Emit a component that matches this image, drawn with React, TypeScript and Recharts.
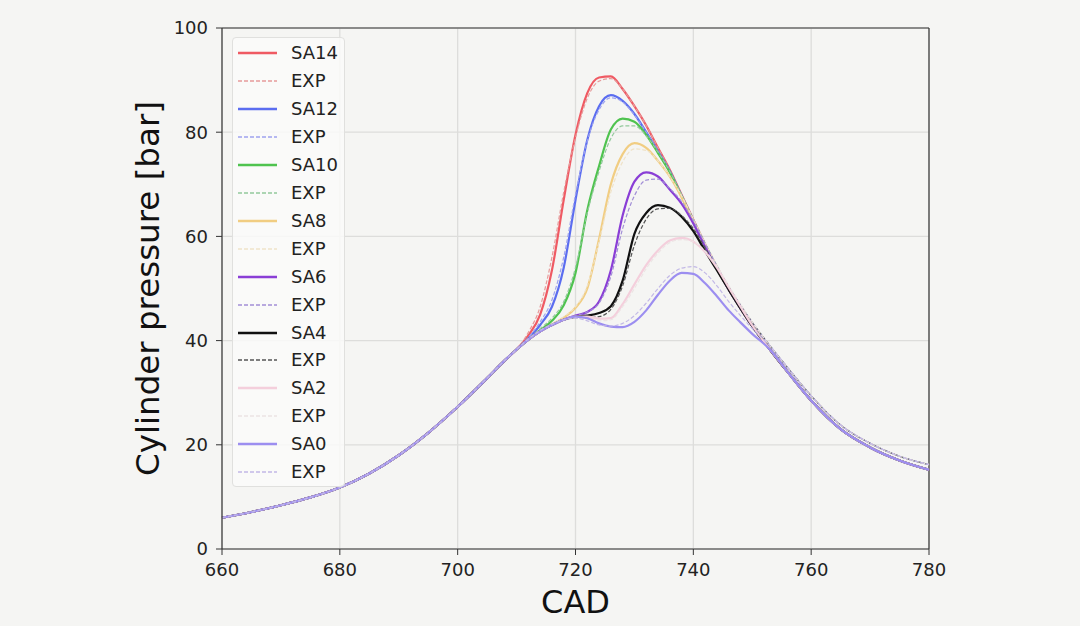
import React from 'react';
import { LineChart, Line, XAxis, YAxis, CartesianGrid, ReferenceLine } from 'recharts';

// crank angle grid: shared compression, per-case combustion window, shared expansion
const CAD_COMPRESSION = [660, 665, 670, 675, 680, 685, 690, 695, 700, 705, 708, 710];
const CAD_COMBUSTION = [712, 714, 716, 718, 720, 722, 724, 726, 728, 730, 732, 734, 736, 738, 740, 742, 744, 746, 748, 750];
const CAD_EXPANSION = [753, 756, 760, 765, 770, 775, 780];

const P_COMPRESSION = [6.0, 7.1, 8.4, 9.9, 11.8, 14.5, 18.0, 22.3, 27.3, 32.8, 36.2, 38.3];
const P_EXPANSION_SIM = [38.3, 34.0, 28.5, 23.0, 19.5, 17.0, 15.2];
const P_EXPANSION_EXP = [39.0, 34.8, 29.4, 23.8, 20.3, 17.8, 16.2];

const SA14 = [41.0, 45.0, 53.5, 67.0, 79.5, 87.5, 90.5, 90.7, 88.3, 85.0, 81.3, 77.0, 72.8, 68.0, 63.2, 58.5, 54.0, 49.8, 46.2, 42.8];
const EXP14 = [41.6, 46.5, 56.0, 68.5, 79.0, 86.5, 89.8, 90.3, 88.3, 85.0, 81.3, 77.0, 72.8, 68.0, 63.3, 58.7, 54.4, 50.3, 46.8, 43.5];
const SA12 = [40.4, 43.0, 46.5, 54.0, 67.0, 78.5, 85.0, 87.1, 86.0, 83.5, 80.0, 76.3, 72.5, 67.8, 63.0, 58.3, 54.0, 49.8, 46.2, 42.8];
const EXP12 = [40.6, 43.6, 47.8, 56.0, 68.0, 78.3, 84.3, 86.6, 85.8, 83.3, 80.0, 76.3, 72.5, 67.9, 63.2, 58.6, 54.3, 50.3, 46.8, 43.5];
const SA10 = [40.2, 42.0, 43.8, 46.8, 53.0, 65.0, 73.5, 80.5, 82.6, 82.0, 79.5, 76.0, 72.3, 67.7, 62.8, 58.2, 53.8, 49.8, 46.2, 42.8];
const EXP10 = [40.3, 42.3, 44.3, 47.5, 54.0, 64.5, 72.5, 78.8, 81.2, 81.2, 79.3, 76.2, 72.5, 68.0, 63.3, 58.7, 54.4, 50.3, 46.8, 43.5];
const SA8 = [40.2, 41.8, 43.1, 44.4, 46.3, 50.0, 59.5, 70.0, 75.8, 77.9, 77.0, 74.5, 71.5, 67.5, 62.8, 58.2, 53.8, 49.8, 46.2, 42.8];
const EXP8 = [40.3, 41.9, 43.2, 44.6, 46.5, 50.5, 59.0, 68.5, 74.3, 76.8, 76.5, 74.5, 71.5, 67.8, 63.3, 58.7, 54.4, 50.3, 46.8, 43.5];
const SA6 = [40.2, 41.8, 43.0, 44.0, 44.8, 45.5, 47.5, 53.5, 64.0, 70.5, 72.3, 71.5, 69.0, 66.3, 62.5, 58.0, 53.8, 49.8, 46.2, 42.8];
const EXP6 = [40.3, 41.9, 43.1, 44.1, 44.8, 45.5, 47.2, 52.3, 61.5, 67.8, 70.8, 71.0, 69.2, 66.7, 63.0, 58.6, 54.3, 50.3, 46.8, 43.5];
const SA4 = [40.2, 41.8, 43.0, 44.0, 44.6, 44.8, 45.3, 46.6, 51.5, 60.5, 64.5, 66.0, 65.5, 63.8, 61.0, 57.2, 53.5, 49.8, 46.2, 42.8];
const EXP4 = [40.3, 41.9, 43.1, 44.0, 44.4, 44.4, 44.6, 46.0, 50.5, 58.3, 63.3, 65.3, 65.4, 64.0, 61.5, 57.8, 54.0, 50.3, 46.8, 43.5];
const SA2 = [40.2, 41.8, 43.0, 44.0, 44.6, 44.6, 44.2, 44.3, 47.0, 50.8, 54.5, 57.3, 59.2, 59.7, 59.0, 57.0, 54.0, 50.2, 46.5, 42.9];
const EXP2 = [40.3, 41.9, 43.1, 44.0, 44.4, 44.2, 43.8, 44.0, 46.5, 50.0, 53.8, 56.8, 58.8, 59.4, 59.0, 57.2, 54.3, 50.6, 47.0, 43.6];
const SA0 = [40.2, 41.8, 43.0, 44.0, 44.6, 44.3, 43.3, 42.7, 42.6, 43.6, 45.8, 48.8, 51.5, 53.0, 52.8, 51.0, 48.5, 45.8, 43.5, 41.3];
const EXP0 = [40.3, 41.9, 43.1, 44.0, 44.3, 43.8, 43.0, 42.8, 43.3, 44.8, 47.2, 50.0, 52.5, 53.9, 54.2, 53.0, 50.5, 47.5, 44.8, 42.3];

const X_TICKS = [660, 680, 700, 720, 740, 760, 780];
const Y_TICKS = [0, 20, 40, 60, 80, 100];

const SERIES = [
  { key: 'sa14', label: 'SA14', burn: SA14, exp: false, color: '#ef5a63' },
  { key: 'exp14', label: 'EXP', burn: EXP14, exp: true, color: '#e69a9a' },
  { key: 'sa12', label: 'SA12', burn: SA12, exp: false, color: '#5b6df0' },
  { key: 'exp12', label: 'EXP', burn: EXP12, exp: true, color: '#9ea3ee' },
  { key: 'sa10', label: 'SA10', burn: SA10, exp: false, color: '#4fc34f' },
  { key: 'exp10', label: 'EXP', burn: EXP10, exp: true, color: '#93c99c' },
  { key: 'sa8', label: 'SA8', burn: SA8, exp: false, color: '#f1cd82' },
  { key: 'exp8', label: 'EXP', burn: EXP8, exp: true, color: '#efe3c9' },
  { key: 'sa6', label: 'SA6', burn: SA6, exp: false, color: '#8a3ed6' },
  { key: 'exp6', label: 'EXP', burn: EXP6, exp: true, color: '#a28fd6' },
  { key: 'sa4', label: 'SA4', burn: SA4, exp: false, color: '#111111' },
  { key: 'exp4', label: 'EXP', burn: EXP4, exp: true, color: '#555555' },
  { key: 'sa2', label: 'SA2', burn: SA2, exp: false, color: '#f4cfdc' },
  { key: 'exp2', label: 'EXP', burn: EXP2, exp: true, color: '#ece4e4' },
  { key: 'sa0', label: 'SA0', burn: SA0, exp: false, color: '#9c8ef0' },
  { key: 'exp0', label: 'EXP', burn: EXP0, exp: true, color: '#c2b8e6' },
];

const CAD = [...CAD_COMPRESSION, ...CAD_COMBUSTION, ...CAD_EXPANSION];

const rows = CAD.map((cad, i) => {
  const row: Record<string, number> = { cad };
  SERIES.forEach((s) => {
    const full = [...P_COMPRESSION, ...s.burn, ...(s.exp ? P_EXPANSION_EXP : P_EXPANSION_SIM)];
    row[s.key] = full[i];
  });
  return row;
});

const FONT = '"DejaVu Sans", sans-serif';
const BG = '#f5f5f3';

const XTitle = ({ viewBox }: any) => (
  <text x={viewBox.x + viewBox.width / 2} y={viewBox.y + 64} textAnchor="middle" fontSize={32} fill="#111" fontFamily={FONT}>
    CAD
  </text>
);

const YTitle = ({ viewBox }: any) => {
  const x = viewBox.x + 159;
  const y = viewBox.y + viewBox.height / 2;
  return (
    <text x={x} y={y} transform={`rotate(-90, ${x}, ${y})`} textAnchor="middle" fontSize={32.5} fill="#111" fontFamily={FONT}>
      Cylinder pressure [bar]
    </text>
  );
};

function LegendBox() {
  return (
    <div
      style={{
        position: 'absolute',
        left: 232,
        top: 37,
        width: 113,
        height: 450,
        boxSizing: 'border-box',
        background: 'rgba(250,250,249,0.85)',
        border: '1px solid #e0e0de',
        borderRadius: 4,
        fontFamily: FONT,
        fontSize: 18,
        color: '#222',
        paddingTop: 1,
      }}
    >
      {SERIES.map((s) => (
        <div key={s.key} style={{ display: 'flex', alignItems: 'center', height: 27.96 }}>
          <svg width={58} height={10} style={{ flex: 'none' }}>
            <line
              x1={5}
              x2={44}
              y1={5}
              y2={5}
              stroke={s.color}
              strokeWidth={s.exp ? 1.5 : 2.5}
              strokeDasharray={s.exp ? '4 2' : undefined}
            />
          </svg>
          <span style={{ lineHeight: 1 }}>{s.label}</span>
        </div>
      ))}
    </div>
  );
}

export default function App() {
  return (
    <div style={{ position: 'absolute', left: 0, top: 0, width: 1080, height: 626, background: BG }}>
      <LineChart width={1080} height={626} data={rows} margin={{ top: 28, right: 151, left: 0, bottom: 0 }}>
        <CartesianGrid stroke="#dddddb" strokeWidth={1.3} />
        <XAxis
          dataKey="cad"
          type="number"
          domain={[660, 780]}
          ticks={X_TICKS}
          height={77}
          tickSize={6}
          tickMargin={8}
          tick={{ fontSize: 18, fill: '#222', fontFamily: FONT }}
          axisLine={{ stroke: '#333', strokeWidth: 1.2 }}
          tickLine={{ stroke: '#333' }}
          label={<XTitle />}
        />
        <YAxis
          type="number"
          domain={[0, 100]}
          ticks={Y_TICKS}
          width={222}
          tickSize={6}
          tickMargin={8}
          tick={{ fontSize: 18, fill: '#222', fontFamily: FONT }}
          axisLine={{ stroke: '#333', strokeWidth: 1.2 }}
          tickLine={{ stroke: '#333' }}
          label={<YTitle />}
        />
        <ReferenceLine y={100} stroke="#333" strokeWidth={1.2} />
        <ReferenceLine x={780} stroke="#333" strokeWidth={1.2} />
        {SERIES.map((s) => (
          <Line
            key={s.key}
            dataKey={s.key}
            type="monotone"
            stroke={s.color}
            strokeWidth={s.exp ? 1.2 : 2.2}
            strokeDasharray={s.exp ? '4 2' : undefined}
            dot={false}
            activeDot={false}
            isAnimationActive={false}
          />
        ))}
      </LineChart>
      <LegendBox />
    </div>
  );
}
